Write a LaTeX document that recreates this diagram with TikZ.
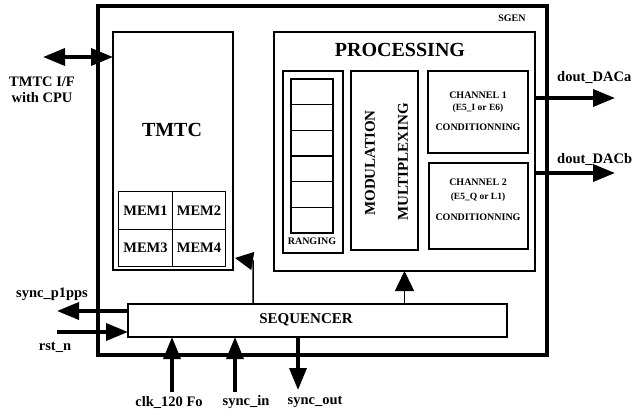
\documentclass[tikz,border=0pt]{standalone}
\usepackage{fontspec}
\setmainfont{Liberation Serif}
\usetikzlibrary{arrows.meta}

\begin{document}
\begin{tikzpicture}[x=1pt, y=-1pt,
    block/.style={rectangle, draw, line width=1.2pt, inner sep=0pt, outer sep=0pt},
    cell/.style={rectangle, draw, line width=1.3pt, inner sep=0pt, outer sep=0pt, minimum width=53.5pt, minimum height=37.5pt, font=\bfseries\fontsize{14.5}{16}\selectfont},
    sig/.style={font=\bfseries\fontsize{14.5}{16}\selectfont, align=center, inner sep=0pt},
    small/.style={font=\bfseries\fontsize{10}{12}\selectfont, align=center, inner sep=0pt},
    bus/.style={-{Triangle[length=22pt,width=17pt]}, line width=3.5pt},
    ctrl/.style={-{Triangle[length=20pt,width=19pt]}, line width=1.5pt}
]
\useasboundingbox (0,0) rectangle (634,415);

% outer block
\node[block, line width=4pt, minimum width=449pt, minimum height=349pt] (sgen) at (322.5,180.5) {};
\node[small] (sgenlbl) at (512,18) {SGEN};

% TMTC and memories
\node[block, minimum width=120pt, minimum height=238pt] (tmtc) at (173,151) {};
\node[font=\bfseries\fontsize{20}{22}\selectfont, inner sep=0pt] (tmtclbl) at (172,130) {TMTC};
\node[cell] (mem1) at (145.5,210.5) {MEM1};
\node[cell] (mem2) at (199,210.5) {MEM2};
\node[cell] (mem3) at (145.5,248) {MEM3};
\node[cell] (mem4) at (199,248) {MEM4};

% processing
\node[block, minimum width=261pt, minimum height=239pt] (proc) at (404.5,151.5) {};
\node[font=\bfseries\fontsize{20}{22}\selectfont, inner sep=0pt] (proclbl) at (400,50) {PROCESSING};

\node[block, minimum width=60pt, minimum height=182pt] (ranging) at (313,162) {};
\foreach \i in {0,...,5}
  \node[block, line width=1.4pt, minimum width=42pt, minimum height=25.67pt] (reg\i) at (312,91.8+25.67*\i) {};
\node[small] (rnglbl) at (312,241) {RANGING};

\node[block, minimum width=67pt, minimum height=179pt] (modmux) at (384.5,160.5) {};
\node[font=\bfseries\fontsize{15}{17}\selectfont, inner sep=0pt, rotate=90] (modlbl) at (370,163) {MODULATION};
\node[font=\bfseries\fontsize{15}{17}\selectfont, inner sep=0pt, rotate=90] (muxlbl) at (403,162) {MULTIPLEXING};

\node[block, minimum width=100pt, minimum height=82pt] (ch1) at (478,112) {};
\node[small] (ch1lbl) at (478,111) {CHANNEL 1\\{\fontsize{9.5}{12}\selectfont(E5\_I or E6)}\\[8pt]CONDITIONNING};
\node[block, minimum width=99pt, minimum height=86pt] (ch2) at (478.5,206) {};
\node[small] (ch2lbl) at (478,200) {CHANNEL 2\\[2pt]{\fontsize{9.5}{12}\selectfont(E5\_Q or L1)}\\[9pt]CONDITIONNING};

% sequencer
\node[block, minimum width=379pt, minimum height=33pt] (seq) at (317.5,320.5) {};
\node[font=\bfseries\fontsize{15}{17}\selectfont, inner sep=0pt] (seqlbl) at (306,320) {SEQUENCER};

% signals
\coordinate (cpu) at (43,57);
\coordinate (daca) at (615,98);
\coordinate (dacb) at (615,173);
\coordinate (p1pps) at (57,311);
\coordinate (rst) at (57,332);
\coordinate (clk) at (172,392);
\coordinate (syncin) at (235,392);
\coordinate (syncout) at (298,390);
\coordinate (bend) at (253,261);
\coordinate (tmtcin) at (235,258);

\draw[{Triangle[length=22pt,width=17pt]}-{Triangle[length=22pt,width=17pt]}, line width=3.5pt] (cpu) -- (cpu -| tmtc.west);
\draw[bus] (proc.east |- daca) -- (daca);
\draw[bus] (proc.east |- dacb) -- (dacb);
\draw[bus] (seq.west |- p1pps) -- (p1pps);
\draw[bus] (rst) -- (rst -| seq.west);
\draw[bus] (clk) -- (clk |- seq.south);
\draw[bus] (syncin) -- (syncin |- seq.south);
\draw[bus] (syncout |- seq.south) -- (syncout);
\draw[ctrl] (seq.north -| proc.south) -- (proc.south);
\draw[-{Triangle[length=18pt,width=18pt]}, line width=1.5pt] (seq.north -| bend) -- (bend) -- (tmtcin);

\node[sig] (cpulbl) at (42,90) {TMTC I/F\\with CPU};
\node[sig, anchor=west] (dacalbl) at (557,77) {dout\_DACa};
\node[sig, anchor=west] (dacblbl) at (557,159) {dout\_DACb};
\node[sig] (p1ppslbl) at (52,294) {sync\_p1pps};
\node[sig] (rstlbl) at (55,347) {rst\_n};
\node[sig] (clklbl) at (169,402) {clk\_120 Fo};
\node[sig] (syncinlbl) at (246,402) {sync\_in};
\node[sig] (syncoutlbl) at (315,402) {sync\_out};
\end{tikzpicture}
\end{document}
